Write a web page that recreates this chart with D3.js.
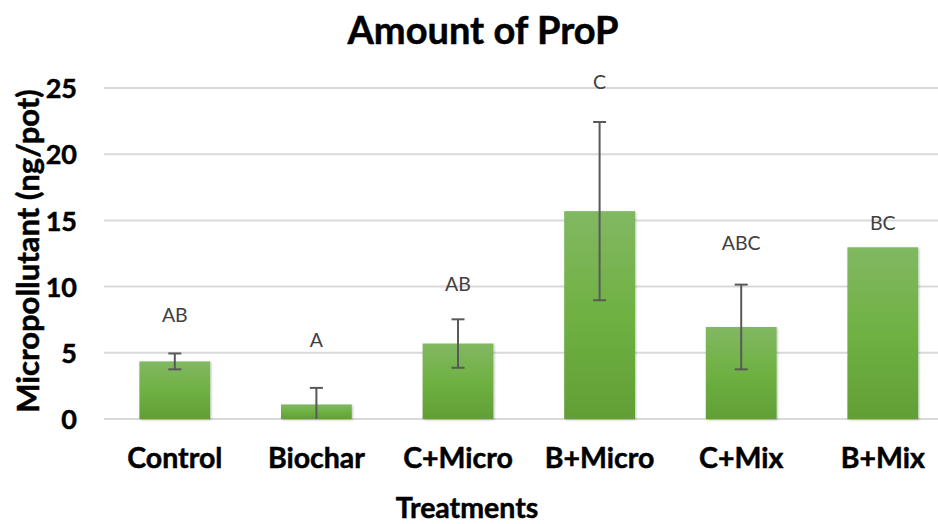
<!DOCTYPE html>
<html><head><meta charset="utf-8">
<script src="https://cdn.jsdelivr.net/npm/d3@7"></script>
<style>body{margin:0;background:#fff}svg{display:block}</style>
</head><body>
<svg id="c" width="938" height="524"></svg>
<script>
const categories = ["Control","Biochar","C+Micro","B+Micro","C+Mix","B+Mix"];
const values = [4.35, 1.1, 5.7, 15.7, 6.95, 12.97];
const errors = [0.6, 1.25, 1.83, 6.73, 3.2, 0];
const letters = ["AB","A","AB","C","ABC","BC"];
const letterY = [7.85, 5.97, 10.2, 25.45, 13.3, 14.8];
const yTicks = [0,5,10,15,20,25];

const svg = d3.select("#c");
const font = "Lato, 'Open Sans', sans-serif";
const x = d3.scaleBand().domain(categories).range([104, 953.6]).paddingInner(0.5).paddingOuter(0.25);
const y = d3.scaleLinear().domain([0,25]).range([419, 88]);

const defs = svg.append("defs");
const g = defs.append("linearGradient").attr("id","bg").attr("x1",0).attr("y1",0).attr("x2",0).attr("y2",1);
g.append("stop").attr("offset","0%").attr("stop-color","#81b862");
g.append("stop").attr("offset","50%").attr("stop-color","#6fb143");
g.append("stop").attr("offset","100%").attr("stop-color","#619f35");
const f = defs.append("filter").attr("id","sh").attr("x","-10%").attr("y","-10%").attr("width","130%").attr("height","130%");
f.append("feDropShadow").attr("dx",1).attr("dy",1).attr("stdDeviation",1.2).attr("flood-color","#000").attr("flood-opacity",0.25);

function bold(sel){ return sel.attr("font-family",font).attr("font-weight","bold").attr("fill","#000").attr("stroke","#000").attr("stroke-width",0.5); }

// gridlines
svg.append("g").selectAll("line").data(yTicks).join("line")
  .attr("x1",104).attr("x2",960).attr("y1",d=>y(d)).attr("y2",d=>y(d))
  .attr("stroke","#d9d9d9").attr("stroke-width",2);

// y tick labels
const yAxis = d3.axisLeft(y).tickValues(yTicks).tickSize(0).tickPadding(0);
const ya = svg.append("g").attr("transform","translate(77,0)").call(yAxis);
ya.select(".domain").remove();
bold(ya.selectAll("text")).attr("font-size",27).attr("text-anchor","end").attr("dy","0.36em");

// bars
svg.append("g").selectAll("rect").data(values).join("rect")
  .attr("x",(d,i)=>x(categories[i])).attr("width",x.bandwidth())
  .attr("y",d=>y(d)).attr("height",d=>y(0)-y(d))
  .attr("fill","url(#bg)").attr("filter","url(#sh)");

// error bars
const eb = svg.append("g").attr("stroke","#595959").attr("stroke-width",2);
values.forEach((v,i)=>{
  if(!errors[i]) return;
  const cx = x(categories[i]) + x.bandwidth()/2;
  const top = v + errors[i], bot = Math.max(0, v - errors[i]);
  eb.append("line").attr("x1",cx).attr("x2",cx).attr("y1",y(top)).attr("y2",y(bot));
  eb.append("line").attr("x1",cx-6.5).attr("x2",cx+6.5).attr("y1",y(top)).attr("y2",y(top));
  if (v - errors[i] > 0) eb.append("line").attr("x1",cx-6.5).attr("x2",cx+6.5).attr("y1",y(bot)).attr("y2",y(bot));
});

// letters
svg.append("g").selectAll("text").data(letters).join("text")
  .attr("x",(d,i)=>x(categories[i])+x.bandwidth()/2).attr("y",(d,i)=>y(letterY[i]))
  .attr("dy","0.35em").attr("text-anchor","middle")
  .attr("font-family",font).attr("font-size",19.5).attr("fill","#404040").text(d=>d);

// x axis labels
const xAxis = d3.axisBottom(x).tickSize(0).tickPadding(0);
const xa = svg.append("g").attr("transform","translate(0,468)").call(xAxis);
xa.select(".domain").remove();
bold(xa.selectAll("text")).attr("font-size",28.5).attr("dy",0);

// titles
bold(svg.append("text")).attr("x",483).attr("y",44).attr("text-anchor","middle")
  .attr("font-size",38).text("Amount of ProP");
bold(svg.append("text")).attr("x",467).attr("y",518).attr("text-anchor","middle")
  .attr("font-size",28.5).text("Treatments");
bold(svg.append("text")).attr("transform","translate(28,251) rotate(-90)").attr("dy","0.36em").attr("text-anchor","middle")
  .attr("font-size",31).text("Micropollutant (ng/pot)");
</script>
</body></html>
